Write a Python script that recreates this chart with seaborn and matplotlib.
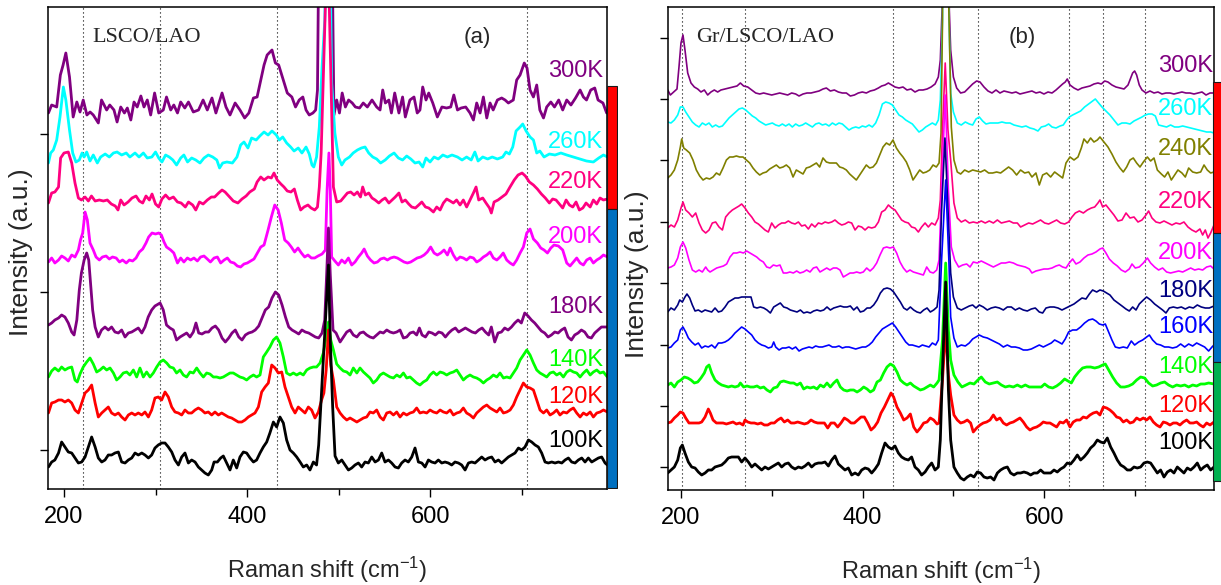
import numpy as np
import pandas as pd
import matplotlib
matplotlib.use("Agg")
import matplotlib.pyplot as plt
import seaborn as sns

# ---------------------------------------------------------------------------
# Raman spectra, stacked with vertical offsets (shift in cm^-1, intensity a.u.)
# Panel (a): LSCO/LAO
# ---------------------------------------------------------------------------
lsco_300K = [(183,377),(186.5,385),(192,383),(196,415),(199,425),(202,437),(206,413),(210,373),(214,388),(217.5,378),(221,390),(225,375),(228.5,378),(232,375),(237.5,367),(241,390),(246.6,380),(250,385),(254.6,380),(258,368),(262,383),(266,377),(269.2,382),(273,370),(276.5,388),(280,383),(284,394),(287.4,383),(291,390),(294.7,375),(299,397),(303.5,377),(308.5,380),(312,393),(316.6,380),(320,385),(324,377),(327.5,388),(332,382),(336,388),(341.3,378),(347,380),(352,390),(356.6,380),(361.7,392),(366,377),(372.7,397),(377,383),(381.4,375),(387,387),(392.3,380),(397.4,372),(402,377),(407,392),(411,393),(415,410),(418.6,425),(422,435),(427.3,440),(431,427),(434.6,425),(439,412),(444,397),(449,393),(453,383),(457,390),(461,393),(464.5,380),(468,375),(472,377),(475,380),(477,400),(485,1200),(495,375),(498,390),(501,377),(504,397),(507.5,383),(511,390),(515,387),(518.4,383),(523,382),(527,387),(531.5,383),(536.6,390),(541.7,383),(545.4,380),(548.3,400),(551.2,387),(555,390),(557.8,377),(561.4,397),(566,377),(570,393),(573,373),(578,390),(582.5,393),(586,377),(589,380),(592,403),(595.6,390),(598.6,397),(603,387),(608,373),(613,383),(618,382),(622.6,383),(626,395),(630,380),(634,382),(639,383),(643.7,377),(647.4,370),(651,387),(654.7,377),(658.3,393),(662,372),(665.6,387),(669,380),(673.6,390),(678.3,392),(682,390),(685.6,387),(691,390),(694.7,410),(698.4,415),(703,427),(706,422),(709.3,400),(713,393),(716.6,405),(720,380),(724,372),(727.5,383),(732,388),(736,383),(740.6,390),(745,380),(749.4,390),(754,385),(759,392),(764,400),(767.6,393),(771,390),(775.6,400),(780,402),(783.6,390),(789,387),(793,377)]
lsco_260K = [(183,327),(185.4,337),(188.3,340),(192,350),(195.6,373),(199.3,403),(202,390),(206,360),(209.5,337),(213,328),(216.7,330),(219.7,337),(222,333),(224.8,338),(228.4,329),(232,335),(236.4,327),(240,333),(245,336),(249.5,333),(254,337),(258,338),(263,335),(268,337),(272,333),(277.6,337),(282,333),(286.7,337),(291,332),(296,333),(300,338),(303.5,332),(307,328),(311,335),(315,333),(319,330),(323,325),(327.5,332),(331,335),(335,328),(339.5,332),(344,330),(348.6,327),(353,332),(357.7,335),(362.5,333),(367,330),(370,322),(373.4,327),(378,328),(384,327),(389,333),(393,345),(396.7,348),(401,342),(405,352),(410,350),(414,354),(418.6,358),(423,355),(427.3,359),(432,355),(435.3,350),(439,353),(443.3,347),(447.7,343),(451.4,339),(456,342),(460,337),(464.5,343),(468,336),(471,325),(473,323),(476,333),(479,363),(482,423),(485,470),(488.5,700),(492.5,407),(496,357),(499.8,333),(503.5,325),(507,330),(512,333),(516,337),(520.6,340),(525,342),(529,343),(533,337),(537.4,333),(541.7,331),(546,327),(551,330),(555.6,334),(560.7,337),(565.4,332),(570,330),(574.5,334),(579,331),(583.6,327),(588,328),(592,323),(595.6,332),(600,328),(604.4,333),(609,331),(614,335),(619,333),(624,335),(630,333),(635,330),(640,333),(645,330),(649,338),(652.5,329),(657.6,333),(663,331),(668,333),(673.6,331),(679.4,333),(683,338),(686.7,336),(690.4,343),(694,359),(698.4,363),(701.3,366),(705,359),(709.3,353),(713,350),(716.6,337),(720,339),(724.6,333),(730.4,336),(736.6,335),(743,337),(749.4,335),(756.7,333),(764,331),(771,329),(778.5,328),(784.4,332),(789.5,335),(794,333)]
lsco_220K = [(183,287),(186.5,297),(190,298),(194,303),(196.3,332),(200,337),(204.7,338),(208.4,327),(212,307),(215.7,292),(219,290),(223,293),(226.6,289),(230,294),(234,289),(238.6,290),(243,289),(247.3,290),(251.7,286),(256,284),(259,280),(262,290),(265.6,285),(270,288),(274.3,292),(278.7,294),(282.3,289),(286,287),(289.6,294),(293.3,290),(296.2,296),(300,286),(303.5,283),(307,291),(311,295),(315,291),(319.5,293),(324,288),(328,287),(332.6,283),(336,288),(340.6,285),(344,280),(348,288),(352,286),(356.6,290),(361,293),(364.6,293),(369,297),(372.7,300),(376,298),(381,293),(385,289),(390,287),(394.5,291),(399,294),(403,298),(408,301),(411,308),(415,313),(418.6,310),(423,313),(426.6,312),(429.5,317),(433,310),(437,306),(440.4,303),(444,299),(448,298),(451.7,301),(455,290),(458.6,280),(462.3,283),(466.6,285),(470,282),(474,280),(477,283),(479,303),(481,337),(483,400),(488,560),(492,400),(494.4,303),(498,288),(502.4,289),(506,293),(509.7,297),(513.3,298),(517,295),(520.6,298),(524,293),(526.4,303),(529.3,295),(533,297),(536.6,292),(540,290),(544,287),(547.6,290),(551,292),(555,287),(558.5,290),(562,293),(566,297),(569.4,288),(573,290),(576.7,286),(580,283),(584,282),(587.6,285),(591,288),(595,283),(598.6,282),(603.7,278),(607.3,283),(611,280),(614.6,287),(618.2,291),(622,289),(625.5,287),(629,290),(632.8,285),(636.4,290),(640,283),(643.7,290),(647.4,297),(650.3,303),(653.2,290),(657.6,292),(661.2,287),(665,282),(667,277),(670,288),(674.3,290),(678.7,293),(683,296),(687.4,303),(692,310),(696.2,315),(700.6,317),(704.2,314),(708.6,308),(713,305),(717.3,301),(721.7,296),(726,292),(730.4,287),(734,291),(737.7,290),(741.4,286),(745,282),(748.7,290),(752.3,285),(756,283),(759.6,288),(763.2,280),(767,282),(770.5,287),(775,283),(778.5,290),(782.2,286),(785.8,292),(789.5,290),(794,291)]
lsco_200K = [(183,228),(186.5,232),(190,227),(194,230),(197.4,234),(201,232),(204.7,229),(208.4,235),(212,233),(215.7,240),(218,250),(220.4,257),(223,278),(225.5,270),(228.4,247),(232,240),(235,233),(238.6,230),(242,233),(246,234),(249.5,231),(253,233),(257,232),(260.6,228),(264,230),(268,227),(271.4,230),(275,229),(278.7,232),(282.3,238),(286,241),(289.6,247),(292.5,253),(296.2,257),(300,256),(303.5,257),(306.4,255),(309.3,248),(312,243),(316.6,240),(320,237),(324,227),(327.5,232),(331,228),(334.8,232),(338.4,230),(342,232),(345.7,229),(349.3,233),(353,234),(356.6,231),(360,228),(364,232),(367.6,233),(371.2,227),(375,230),(378.5,232),(382,228),(385.8,227),(389.4,224),(393,223),(396.7,226),(400.3,227),(404,229),(407.6,231),(411.3,237),(415,243),(418.6,245),(423,260),(426.6,273),(430.3,285),(434,280),(437.5,267),(441.2,250),(445,247),(448.4,243),(452,238),(455.7,242),(459.4,237),(463,233),(466.6,235),(470.3,232),(474,232),(477.6,234),(482,236),(485.6,240),(487.5,300),(489.5,337),(491,300),(492.5,233),(496,229),(499.8,225),(503.5,230),(507,227),(510.8,232),(514.4,225),(518,228),(521.7,233),(525.3,237),(528,241),(531.5,234),(535,230),(538.8,227),(542.5,228),(546,231),(549.7,232),(553.4,230),(557,232),(560.7,233),(564.3,232),(568,230),(571.6,228),(575.3,227),(578.9,228),(582.5,230),(586,232),(589.8,233),(593.5,235),(597,238),(600.7,243),(604.4,237),(608,235),(611.7,237),(615.3,240),(619,235),(622,242),(625.5,235),(629,230),(632.8,233),(636.4,232),(640,230),(643.7,233),(647.4,232),(651,228),(654.7,230),(658.3,233),(662,235),(665.6,238),(669.2,232),(673,230),(676.5,233),(680,237),(683.8,230),(687.5,227),(691,225),(694.7,230),(698.4,237),(702,243),(705.7,257),(709.3,261),(713,251),(717.3,247),(721,242),(724.6,240),(728.3,237),(732,242),(735.5,245),(740.3,244),(745,240),(749.4,227),(753,224),(756.7,228),(760.3,232),(764,227),(767.6,225),(771.2,230),(775,232),(778.5,227),(782.2,230),(785.8,232),(789.5,235),(794,233)]
lsco_180K = [(183,165),(186.5,167),(190,170),(194,172),(197.4,175),(201,173),(204.7,167),(208.4,158),(211,155),(214,170),(216.7,200),(219,217),(222,230),(224.8,237),(227,230),(229,207),(231.3,180),(234,163),(237.5,153),(241,160),(244.8,163),(248.4,160),(252,163),(255.7,158),(259.4,157),(263,160),(266.7,153),(270.3,157),(274,158),(277.6,160),(281.2,162),(285,157),(288.5,163),(292,173),(295.8,180),(299.4,184),(305,187),(308.5,180),(312,165),(315.8,162),(319.5,160),(323,150),(326.8,153),(330.4,155),(334,157),(337.7,153),(341.3,158),(344.2,167),(347.2,157),(350.8,156),(354.5,158),(358,158),(361.7,162),(365.4,164),(369,160),(372.7,152),(376.3,148),(380,152),(383.6,157),(387.2,160),(391,153),(394.5,150),(398.2,155),(401.8,157),(405.5,158),(409,160),(412.8,164),(416.4,172),(420,180),(423.7,183),(427.3,192),(431,198),(434.6,195),(438.3,185),(442,173),(445.6,163),(449.2,160),(453,158),(456.5,156),(460,160),(463.7,158),(467.4,157),(471,155),(474.7,153),(478.3,152),(482,157),(484.9,170),(487,215),(489,262),(491,215),(494,160),(497.3,157),(501.7,148),(505.3,153),(509,158),(512.6,160),(516.2,155),(520,153),(523.5,157),(527.2,158),(530.8,155),(534.4,153),(538,152),(541.7,155),(545.4,158),(549,157),(552.7,160),(556.3,158),(560,157),(563.6,158),(567.2,160),(570.9,152),(574.5,153),(578.2,157),(581.8,158),(585.4,155),(588.4,162),(591.3,155),(595,153),(598.6,158),(602.2,157),(605.8,155),(609.5,158),(613.1,157),(616.8,153),(620.4,157),(624,160),(627.7,162),(631.3,158),(635,160),(638.6,162),(642.3,160),(646,158),(649.6,157),(653.2,160),(656.9,162),(660.5,158),(664.1,155),(667,163),(670.7,148),(674.3,157),(678,158),(681.6,162),(685.3,160),(689,163),(692.6,167),(696.2,170),(699.8,167),(703.5,177),(707.1,174),(710.8,170),(714.4,167),(718,163),(721.7,159),(725.3,157),(729,153),(732.6,155),(736.3,158),(740,157),(743.6,160),(747.2,162),(750.8,153),(754.5,150),(758.1,155),(761.8,157),(765.4,160),(769,158),(772.7,153),(776.3,152),(780,157),(783.6,160),(787.3,163),(793.8,163)]
lsco_140K = [(183,113),(186.5,119),(190,122),(194,119),(197.4,123),(201,120),(204.7,122),(208.4,123),(212,110),(214.5,108),(217.5,116),(221,123),(224.8,128),(228.4,132),(232,126),(235.7,118),(239.3,120),(243,123),(246.6,120),(250.3,122),(254,117),(257.5,110),(261.2,113),(264.8,117),(268.5,118),(272,115),(275.8,120),(279.4,113),(283,122),(286.7,113),(290.3,118),(294,113),(297.6,117),(301.3,123),(305,128),(308.5,130),(312.2,127),(315.8,123),(319.5,122),(323,117),(326.8,120),(330.4,115),(334,113),(337.7,118),(341.3,117),(345,122),(348.6,117),(352.3,113),(355.9,117),(359.5,116),(363.2,113),(366.8,113),(370.5,112),(374.1,113),(377.8,115),(381.4,117),(385,117),(388.7,115),(392.3,113),(396,112),(399.6,110),(403.3,113),(407,115),(410.5,113),(414.2,115),(417.8,133),(421.5,138),(425,143),(428.8,150),(432.4,153),(436,147),(439.7,133),(443.3,117),(447,115),(450.6,117),(454.3,115),(458,117),(461.5,115),(465.2,120),(468.8,122),(472.5,123),(476,123),(479.8,127),(483.4,137),(486,150),(489,168),(491.5,150),(494.4,140),(498,126),(501.7,122),(505.3,119),(509,118),(512.6,115),(516.2,122),(520,117),(523.5,122),(527.2,118),(530.8,115),(534.4,112),(538,107),(541.7,110),(545.4,115),(549,117),(552.7,115),(556.3,113),(560,112),(563.6,115),(567.2,113),(570.9,117),(574.5,112),(578.2,113),(581.8,110),(585.4,107),(589,105),(592.7,108),(596.4,110),(600,115),(603.7,118),(607.3,115),(611,118),(614.6,117),(618.2,115),(622,117),(625.5,118),(629.2,120),(632.8,115),(636.4,110),(640,113),(643.7,115),(647.4,113),(651,112),(654.7,110),(658.3,107),(662,110),(665.6,112),(669.2,115),(673,113),(676.5,117),(680.2,112),(683.8,113),(687.5,112),(691.1,117),(694.7,122),(698.4,130),(702,135),(705.7,140),(709.3,135),(713,127),(716.6,120),(720.2,117),(724,115),(727.5,113),(731.2,117),(734.8,118),(738.4,115),(742,117),(745.7,113),(749.4,118),(753,120),(756.7,118),(760.3,117),(764,113),(767.6,117),(771.2,120),(775,115),(778.5,118),(782.2,120),(785.8,117),(789.5,118),(793.8,113)]
lsco_120K = [(183,77),(186.5,87),(190,88),(194,90),(197.4,90),(201,88),(204.7,90),(208.4,87),(212,80),(215.7,77),(219.3,87),(223,97),(226.6,100),(230.2,105),(234,87),(237.5,73),(241.2,77),(244.8,80),(248.4,83),(252,77),(255.7,75),(259.4,77),(263,73),(266.7,70),(270.3,75),(274,77),(277.6,75),(281.2,77),(285,75),(288.5,78),(292.2,73),(295.8,80),(299.4,92),(303,93),(306.7,90),(310.4,98),(314,93),(317.7,83),(321.3,78),(325,77),(328.6,75),(332.2,80),(335.9,77),(339.5,77),(343.2,80),(346.8,82),(350.4,80),(354,77),(357.7,78),(361.4,75),(365,78),(368.7,75),(372.3,77),(376,75),(379.6,73),(383.2,72),(386.9,70),(390.5,68),(394.2,68),(397.8,70),(401.4,73),(405,75),(408.7,77),(412.4,83),(416,98),(419.7,103),(423.3,107),(427,125),(430.6,122),(434.2,117),(437.9,118),(441.5,103),(445.2,93),(448.8,83),(452.5,77),(456,83),(459.7,80),(463.4,77),(467,83),(470.6,80),(474.3,72),(478,78),(481.5,90),(484,97),(486.5,120),(489,160),(491.5,125),(494.4,110),(498,83),(501.7,77),(505.3,73),(509,70),(512.6,72),(516.2,70),(520,68),(523.5,70),(527.2,72),(530.8,73),(534.4,78),(538,77),(541.7,80),(545.4,73),(549,70),(552.7,77),(556.3,78),(560,75),(563.6,78),(567.2,73),(570.9,77),(574.5,75),(578.2,77),(581.8,78),(585.4,82),(589,77),(592.7,78),(596.4,77),(600,80),(603.7,78),(607.3,77),(611,80),(614.6,78),(618.2,77),(622,80),(625.5,75),(629.2,77),(632.8,78),(636.4,82),(640,77),(643.7,75),(647.4,72),(651,77),(654.7,80),(658.3,83),(662,85),(665.6,82),(669.2,80),(673,78),(676.5,82),(680.2,77),(683.8,78),(687.5,80),(691.1,85),(694.7,93),(698.4,100),(702,107),(705.7,103),(709.3,102),(713,100),(716.6,90),(720.2,80),(724,77),(727.5,80),(731.2,75),(734.8,77),(738.4,80),(742,75),(745.7,78),(749.4,77),(753,80),(756.7,82),(760.3,77),(764,73),(767.6,77),(771.2,75),(775,78),(778.5,73),(782.2,77),(785.8,78),(789.5,80),(793.8,78)]
lsco_100K = [(183,23),(186.5,28),(190,30),(194,37),(197.4,48),(201,43),(204.7,38),(208.4,37),(212,32),(215.7,27),(219.3,28),(223,33),(226.6,43),(230.2,53),(234,43),(237.5,32),(241.2,28),(244.8,30),(248.4,35),(252,35),(255.7,37),(259.4,38),(263,28),(266.7,27),(270.3,30),(274,32),(277.6,37),(281.2,35),(285,37),(288.5,35),(292.2,32),(295.8,35),(299.4,42),(303,45),(306.7,47),(310.4,47),(314,43),(317.7,38),(321.3,30),(325,25),(328.6,33),(332.2,37),(335.9,27),(339.5,30),(343.2,28),(346.8,23),(350.4,20),(354,17),(357.7,15),(361.4,20),(364,28),(367.6,28),(371.2,32),(374.1,34),(377.8,27),(381.4,20),(385,30),(388.7,22),(392.3,33),(396,38),(399.6,37),(403.3,32),(407,28),(410.5,30),(414.2,37),(417.8,43),(421.5,48),(425,57),(428.8,68),(432.4,63),(436,73),(439.7,67),(443.3,50),(447,40),(450.6,37),(454.3,33),(458,28),(461.5,23),(465.2,25),(468.8,20),(472.5,28),(476,25),(478.3,45),(489,225),(491,150),(493.6,83),(496.2,34),(499.8,27),(503.5,30),(507.1,25),(510.8,20),(514.4,22),(518,25),(521.7,27),(525.3,23),(529,28),(532.6,27),(536.3,33),(540,28),(543.6,30),(547.2,37),(550.8,28),(554.5,30),(558.1,27),(561.8,23),(565.4,22),(569,27),(572.7,30),(576.3,28),(580,33),(583.6,42),(587.3,28),(591,27),(594.6,23),(598.2,30),(601.8,28),(605.5,27),(609.1,30),(612.8,27),(616.4,28),(620,27),(623.7,25),(627.3,28),(631,27),(634.6,25),(638.3,20),(642,27),(645.5,28),(649.2,27),(652.8,30),(656.5,33),(660.1,30),(663.8,32),(667.4,33),(671,28),(674.7,30),(678.3,27),(682,30),(685.6,33),(689.3,35),(692.9,37),(696.6,42),(700.2,40),(703.8,43),(707.5,50),(711.1,48),(714.8,45),(718.4,43),(722,37),(725.7,28),(729.3,27),(733,28),(736.6,27),(740.3,28),(744,27),(747.6,30),(751.2,32),(754.8,28),(758.5,27),(762.1,30),(765.8,32),(769.4,28),(773,32),(776.7,28),(780.4,30),(784,32),(787.6,33),(791.3,27),(793.8,25)]

# ---------------------------------------------------------------------------
# Panel (b): Gr/LSCO/LAO
# ---------------------------------------------------------------------------
gr_300K = [(185.4,400),(188.3,395),(192,398),(195.6,401),(197.8,423),(200,447),(202.2,455),(204.4,440),(207.4,417),(211,407),(214.7,403),(218.4,401),(222,398),(225.7,400),(229.4,395),(233,398),(236.7,400),(240.4,398),(244,400),(248.5,401),(252.9,402),(257.3,403),(261.7,404),(265.4,407),(269,404),(273.5,403),(277.9,400),(282.3,397),(286.7,396),(291,397),(295.5,396),(299.9,395),(304.3,396),(308.7,397),(313.1,396),(317.5,395),(321.9,397),(326.3,396),(330,394),(334.4,396),(338.8,397),(343.2,397),(347.6,398),(352,399),(356.4,401),(360.1,402),(364.5,399),(368.9,400),(373.3,398),(377.7,397),(382.1,397),(386.5,394),(391,395),(395.3,397),(399.7,398),(404.1,397),(408.5,399),(413,400),(417.4,402),(421,404),(424.7,405),(428.4,407),(432,405),(435.7,403),(440.1,402),(444.5,403),(448.9,400),(453.3,401),(457.7,398),(462.1,400),(466.5,400),(471,401),(475.4,403),(479.8,406),(483.4,413),(485.6,430),(487.5,480),(491,1200),(495.5,480),(497,440),(500,413),(503.6,402),(508,397),(512.4,398),(516.8,402),(521.2,406),(525.6,409),(529.3,408),(533.7,403),(538.1,399),(542.5,397),(546.9,400),(551.3,397),(555.7,399),(560.1,398),(564.5,397),(568.9,398),(573.3,396),(577.7,397),(582.1,398),(586.5,399),(591,397),(595.3,398),(599.7,396),(604.2,398),(608.6,397),(613,400),(616.6,403),(620.3,406),(623.2,408),(625.4,411),(628.4,405),(632.8,402),(637.2,400),(641.6,402),(646,403),(650.4,404),(654.8,406),(659.2,407),(662.9,406),(666.6,409),(670.2,408),(674.6,405),(679,403),(683.4,402),(687.9,401),(692.3,405),(695.2,412),(697.4,417),(699.6,419),(701.8,415),(704.7,405),(707.7,400),(712.1,397),(716.5,399),(720.9,397),(725.3,398),(729.7,396),(734.1,397),(738.5,397),(742.9,396),(747.3,397),(751.7,398),(756.1,397),(760.5,397),(765,396),(769.4,397),(773.8,398),(778.2,395),(782.6,397),(787,397)]
gr_260K = [(185.4,368),(189,367),(192.7,370),(196.4,375),(199.3,383),(202.2,383),(205.2,378),(208.8,373),(212.5,368),(216.2,365),(219.9,363),(223.5,367),(227.2,365),(230.9,367),(234.5,363),(238.2,365),(241.9,363),(245.6,364),(249.2,368),(252.9,372),(256.6,375),(260.2,378),(263.9,381),(267.6,382),(271.3,380),(274.9,377),(278.6,374),(282.3,372),(285.9,369),(289.6,367),(293.3,365),(297,366),(300.6,367),(304.3,365),(308,364),(311.6,366),(315.3,364),(319,366),(322.6,363),(326.3,366),(330,364),(333.7,365),(337.3,367),(341,365),(344.7,363),(348.3,366),(352,367),(355.7,365),(359.4,366),(363,364),(366.7,367),(370.4,365),(374,367),(377.7,366),(381.4,363),(385,360),(388.7,362),(392.4,363),(396,362),(399.7,364),(403.4,363),(407.1,365),(410.7,363),(414.4,367),(418.1,375),(421.8,386),(425.4,388),(429.1,387),(432.8,385),(436.4,380),(440.1,375),(443.8,373),(447.5,370),(451.1,368),(454.8,366),(458.5,362),(462.1,358),(465.8,360),(469.5,363),(473.2,365),(476.8,367),(480.5,365),(483.4,370),(485.6,390),(488,470),(491,1000),(495,480),(497,397),(500,378),(504.3,367),(508.7,365),(513.1,368),(517.5,366),(521.2,365),(524.9,371),(528.5,373),(532.2,369),(535.9,366),(540.3,367),(544.7,367),(549.1,367),(553.5,368),(557.9,367),(562.3,367),(566.7,365),(571.1,364),(575.5,363),(579.9,364),(584.3,362),(588.7,361),(593.1,359),(596.8,363),(601.2,364),(604.9,366),(608.6,363),(613,362),(617.4,364),(621,365),(624.7,370),(627.6,373),(631.3,375),(635.7,377),(640.1,379),(644.5,383),(648.9,386),(653.3,389),(656.3,391),(660,387),(663.6,383),(668,379),(672.4,375),(676.8,370),(681.2,365),(685.6,367),(690.1,367),(694.5,366),(698.9,369),(703.3,371),(707.7,373),(711.3,375),(715,376),(718.7,376),(722.4,374),(726,365),(730.4,364),(734.8,363),(739.2,365),(743.6,363),(748,363),(752.5,364),(756.9,363),(761.3,362),(765.7,361),(770.1,360),(774.5,359),(778.9,358),(783.3,358),(787,357)]
gr_240K = [(185.4,312),(189,315),(192.7,320),(196.4,330),(199.3,343),(200.8,351),(203,342),(205.9,340),(209.6,337),(213.2,330),(216.9,320),(220.6,314),(224.3,310),(227.9,312),(231.6,311),(235.3,313),(239,317),(242.6,315),(246.3,322),(250,330),(253.6,333),(257.3,333),(261,334),(264.6,333),(268.3,333),(272,330),(275.7,327),(279.3,322),(283,318),(286.7,315),(290.3,317),(294,318),(297.7,321),(301.4,323),(305,325),(308.7,322),(312.4,323),(316,325),(319.7,322),(323.4,313),(327,320),(330.7,318),(334.4,316),(338,322),(341.7,323),(345.4,325),(349.1,327),(352.7,323),(356.4,332),(360.1,328),(363.8,327),(367.4,327),(371.1,327),(374.8,323),(378.4,322),(382.1,320),(385.8,316),(389.5,313),(393.1,310),(396.8,315),(400.5,320),(404.1,325),(407.8,322),(411.5,323),(415.2,327),(418.8,335),(422.5,343),(426.2,347),(429.8,345),(433.5,350),(437.2,342),(440.9,337),(444.5,333),(448.2,328),(451.9,320),(455.5,310),(459.2,315),(462.9,320),(466.6,317),(470.2,318),(473.9,320),(477.6,325),(481.2,323),(484.2,327),(486.4,357),(488,470),(491,1000),(495,480),(497.7,363),(500.6,330),(504.3,318),(508,316),(512.4,320),(516.8,318),(521.2,320),(525.6,319),(530,318),(534.4,320),(538.8,317),(543.2,317),(547.6,318),(552,317),(556.4,320),(560.8,323),(565.2,320),(569.6,315),(574,320),(578.5,317),(582.9,318),(586.5,313),(590.9,317),(594.6,305),(598.3,315),(602.7,317),(607.1,313),(611.5,318),(615.9,315),(620.3,312),(624,327),(628.4,333),(632.8,330),(637.2,333),(640.9,342),(643.8,351),(647.5,347),(651.1,352),(654.8,348),(658.5,350),(661.4,353),(665.8,348),(670.2,343),(674.6,336),(679,328),(683.4,322),(687.1,318),(690.8,323),(694.5,330),(698.1,332),(701.8,327),(705.5,323),(709.2,328),(713.6,333),(717.2,329),(720.9,332),(724.6,320),(729,316),(732.6,313),(736.3,318),(740,310),(743.6,315),(747.3,320),(751.7,317),(755.4,313),(759.1,322),(763.5,318),(767.9,317),(772.3,318),(776,325),(779.6,320),(783.3,317),(787,318)]
gr_220K = [(185.4,262),(189,265),(192.7,263),(196.4,270),(200,282),(202.2,288),(205.2,280),(208.8,277),(212.5,273),(216.2,277),(219.9,267),(223.5,260),(227.2,257),(230.9,260),(234.5,267),(238.2,268),(241.9,263),(245.6,260),(249.2,273),(252.9,277),(256.6,280),(260.2,282),(263.9,284),(266.8,286),(270.5,282),(274.2,277),(277.9,273),(281.5,268),(285.2,266),(288.9,263),(292.5,260),(296.2,258),(299.9,267),(303.6,262),(307.2,265),(310.9,267),(314.6,267),(318.2,269),(321.9,267),(325.6,266),(329.3,268),(332.9,264),(336.6,265),(340.3,261),(343.9,266),(347.6,263),(351.3,267),(355,266),(358.6,268),(362.3,267),(366,268),(369.6,270),(373.3,267),(377,265),(380.6,266),(384.3,268),(388,267),(391.7,260),(395.3,264),(399,263),(402.7,260),(406.3,263),(410,262),(413.7,263),(417.4,268),(421,278),(424.7,280),(428.4,285),(432,282),(435.7,280),(439.4,275),(443,270),(446.7,268),(450.4,267),(454,263),(457.7,262),(461.4,258),(465,263),(468.8,267),(472.4,263),(476.1,267),(479.8,265),(483.4,272),(485.6,290),(488,360),(491,427),(494,360),(497,330),(500.6,287),(504.3,272),(508.7,268),(513.1,270),(517.5,267),(521.9,268),(526.3,267),(530.7,269),(535.1,267),(539.5,269),(544,267),(548.4,270),(552.8,267),(557.2,268),(561.6,269),(566,267),(570.4,267),(574,263),(578.5,265),(582.9,267),(587.3,266),(591.7,268),(596,270),(600.5,267),(604.9,266),(609.3,268),(613.7,270),(618.1,267),(622.5,266),(626.9,268),(630.6,273),(634.3,277),(638.7,279),(643.1,277),(647.5,280),(651.9,282),(655.6,283),(659.2,287),(661.4,290),(664.4,283),(668,285),(672.4,280),(676.8,275),(681.2,269),(685.7,270),(690.1,277),(694.5,272),(698.9,273),(703.3,268),(707.7,270),(712.1,275),(715,279),(718.7,272),(723.1,268),(727.5,267),(731.9,269),(736.3,267),(740.7,265),(745.1,267),(749.5,266),(753.9,268),(758.3,263),(762.7,260),(767.1,258),(771.5,261),(774.5,255),(777.4,260),(780.4,252),(783.3,257),(787,265)]
gr_200K = [(185.4,222),(189,223),(192.7,225),(196.4,232),(199.3,243),(202.2,248),(205.2,242),(208.8,230),(212.5,220),(216.2,218),(219.9,220),(223.5,218),(227.2,223),(229.4,220),(232,218),(235.6,220),(239.3,222),(243,223),(246.7,224),(250.3,226),(254,233),(257.7,237),(261.3,237),(265,238),(268.7,237),(272.3,239),(276,237),(279.7,235),(283.4,233),(287,230),(290.7,228),(294.4,223),(298,222),(301.7,225),(305.4,224),(309,225),(312.7,217),(316.4,217),(320,218),(323.7,217),(327.4,219),(331,217),(334.8,218),(338.4,220),(342.1,218),(345.8,222),(349.4,223),(353.1,218),(356.8,220),(360.5,222),(364.1,220),(367.8,222),(371.5,222),(375.1,220),(378.8,213),(382.5,215),(386.2,217),(389.8,217),(393.5,218),(397.2,217),(400.8,218),(404.5,222),(408.2,219),(411.8,222),(415.5,227),(419.2,235),(422.9,242),(426.5,243),(430.2,242),(433.9,243),(437.5,237),(441.2,228),(444.9,222),(448.6,218),(452.2,220),(455.9,218),(459.6,217),(463.2,216),(466.9,215),(470.6,223),(474.3,218),(477.9,217),(481.6,220),(484.2,230),(487,300),(491,395),(494.5,300),(497.7,243),(501.4,230),(505.8,223),(510.2,225),(514.6,226),(518.3,223),(521.9,228),(526.3,227),(530.7,229),(535.1,227),(539.5,225),(544,223),(548.4,225),(552.8,227),(557.2,227),(561.6,228),(566,227),(570.4,225),(574.8,224),(579.2,223),(583.6,221),(586.5,217),(590.9,219),(595.3,220),(599.7,221),(604.2,221),(608.6,222),(613,224),(616.6,225),(620.3,223),(624,222),(627.6,227),(631.3,231),(635,226),(639.4,228),(643.8,232),(648.2,235),(652.6,236),(657,238),(661.4,241),(664.4,242),(668,237),(671.7,231),(676.1,227),(680.5,224),(684.9,220),(689.3,218),(693.7,221),(696.7,226),(700.3,222),(704.7,223),(709.2,227),(713.6,232),(717.2,227),(721.6,223),(726,220),(730.4,222),(734.8,218),(739.2,217),(743.6,218),(748.1,219),(752.5,218),(756.9,220),(761.3,222),(765.7,220),(770.1,221),(774.5,220),(778.9,223),(783.3,224),(787,221)]
gr_180K = [(185.4,178),(189,182),(192.7,180),(196.4,185),(198.6,190),(201.5,188),(204.4,193),(206.6,196),(209.6,192),(212.5,185),(215.5,179),(219.1,180),(222.8,178),(226.5,180),(230.1,179),(233.8,178),(237.5,182),(241.2,178),(244.8,179),(248.5,183),(252.2,188),(255.8,190),(259.5,192),(263.2,192),(266.8,193),(270.5,193),(274.2,193),(277.1,193),(280.1,183),(283.7,182),(287.4,183),(291.1,182),(294.7,180),(298.4,177),(302.1,183),(305.8,185),(309.4,187),(313.1,183),(316.8,182),(320.4,180),(324.1,179),(327.8,178),(331.5,180),(335.1,177),(338.8,178),(342.5,177),(346.1,179),(349.8,180),(353.5,179),(357.2,180),(360.8,183),(364.5,180),(368.2,182),(371.8,183),(375.5,184),(379.2,183),(382.9,183),(386.5,184),(390.2,180),(393.9,183),(397.5,178),(401.2,179),(404.9,182),(408.5,182),(412.2,185),(415.9,190),(419.6,197),(423.2,201),(426.9,202),(430.6,201),(434.2,198),(437.9,193),(441.6,188),(445.3,182),(448.9,180),(452.6,183),(456.3,180),(459.9,178),(463.6,177),(467.3,180),(471,182),(474.6,178),(478.3,180),(482,183),(484.2,200),(487,280),(490.7,352),(494,280),(497,217),(500,193),(504.3,182),(508.7,180),(513.1,182),(517.5,184),(521.2,185),(524.9,182),(528.5,185),(532.9,183),(537.3,180),(541.7,182),(546.2,183),(550.6,182),(555,180),(559.4,183),(563.8,183),(568.2,180),(572.6,182),(577,180),(581.4,179),(585.8,181),(590.2,182),(594.6,178),(598.3,177),(602,182),(606.4,183),(610.8,183),(615.2,182),(619.6,180),(624,182),(628.4,184),(632.8,186),(637.2,189),(641.6,192),(646,191),(649.7,196),(653.3,200),(657.8,198),(661.4,200),(665.1,199),(668.8,197),(672.4,195),(676.8,190),(681.3,187),(685.7,184),(690,181),(693.7,179),(697.4,183),(701.1,180),(704.7,186),(709.2,190),(712.8,193),(717.2,190),(721.6,186),(726,183),(730.4,180),(734.1,177),(737.8,182),(742.2,183),(746.6,182),(751,183),(755.4,181),(759.8,183),(764.2,182),(768.6,185),(773,183),(777.4,182),(781.8,182),(787,184)]
gr_160K = [(185.4,142),(189,143),(192.7,147),(196.4,150),(199.3,160),(202.2,163),(205.2,158),(208.1,152),(211.8,148),(215.5,145),(219.1,147),(222.8,142),(226.5,144),(230.1,143),(233.8,145),(237.5,142),(241.2,147),(244.8,147),(248.5,148),(252.2,150),(255.8,153),(259.5,157),(263.2,160),(266.8,163),(270.5,161),(274.2,158),(277.9,155),(281.5,150),(285.2,147),(288.9,145),(292.5,144),(296.2,142),(299.9,143),(302.1,148),(304.3,143),(308,140),(311.6,142),(315.3,142),(319,143),(322.6,141),(326.3,143),(330,139),(333.7,141),(337.3,142),(341,143),(344.7,142),(348.3,144),(352,143),(355.7,143),(359.4,144),(363,145),(366.7,143),(370.4,143),(374,144),(377.7,142),(381.4,143),(385,143),(388.7,142),(392.4,141),(396,142),(399.7,143),(403.4,143),(407.1,145),(410.7,148),(414.4,153),(418.1,157),(421.8,161),(425.4,163),(429.1,165),(432.8,167),(436.4,163),(440.1,158),(443.8,153),(447.5,148),(451.1,145),(454.8,145),(458.5,144),(462.1,143),(465.8,145),(469.5,144),(473.2,143),(476.8,147),(480.5,145),(483.4,150),(487,230),(491.5,310),(495,230),(497,173),(500.6,152),(504.3,143),(508.7,145),(513.1,144),(517.5,147),(521.2,151),(524.9,153),(528.5,155),(532.9,153),(537.3,152),(541.7,150),(546.2,148),(550.6,146),(555,143),(559.4,145),(563.8,143),(568.2,143),(572.6,142),(577,140),(581.4,140),(585.8,141),(590.2,143),(594.6,145),(599,143),(603.4,145),(607.8,147),(611.5,150),(615.9,148),(619.6,146),(623.2,151),(626.9,158),(631.3,160),(635.7,160),(640.1,163),(644.5,167),(649,170),(653.3,171),(657,169),(660.7,166),(664.4,165),(667.3,166),(671,158),(674.6,150),(678.3,143),(682.7,142),(687.1,143),(691.5,142),(695.9,149),(699.6,145),(704,148),(708.4,150),(712.8,153),(715.8,155),(719.4,150),(723.8,146),(728.2,145),(732.6,143),(737,143),(741.4,142),(745.9,143),(750.3,146),(754.7,143),(759.1,146),(763.5,144),(767.9,147),(772.3,145),(776.7,143),(781.1,139),(784.8,143),(787,145)]
gr_140K = [(185.4,105),(189,107),(192.7,103),(196.4,108),(200,110),(203.7,113),(207.4,112),(211,110),(214.7,107),(218.4,108),(222,112),(225.7,117),(228.3,123),(230.9,125),(233.8,117),(237.5,110),(241.2,107),(244.8,105),(248.5,104),(252.2,103),(255.8,104),(259.5,103),(263.2,104),(265.4,107),(269,103),(272.7,104),(276.4,103),(280,103),(283.7,104),(287.4,102),(291.1,103),(294.7,100),(298.4,98),(302.1,102),(305.8,103),(309.4,108),(313.1,109),(316.8,108),(320.4,107),(324.1,107),(327.8,105),(331.5,107),(335.1,101),(338.8,103),(342.5,102),(346.1,103),(349.8,101),(353.5,105),(357.2,103),(360.8,107),(364.5,103),(368.2,107),(371.8,110),(375.5,103),(379.2,100),(382.9,99),(386.5,100),(390.2,100),(393.9,98),(397.5,100),(401.2,103),(404.9,101),(408.5,98),(412.2,100),(415.9,108),(419.6,110),(423.2,117),(426.9,123),(430.6,126),(434.2,124),(437.9,118),(441.6,110),(445.3,107),(448.9,105),(452.6,107),(456.3,104),(459.9,102),(463.6,100),(467.3,101),(471,103),(474.6,105),(478.3,103),(482,107),(484.2,110),(488,150),(491.5,227),(494.5,160),(497,130),(500.6,115),(505,108),(509.4,103),(513.8,105),(518.3,107),(522.7,106),(527,110),(530.7,113),(535.1,108),(539.5,106),(544,107),(548.4,108),(552.8,105),(557.2,103),(561.6,104),(566,103),(570.4,105),(574.8,103),(579.2,105),(583.6,103),(588,103),(592.4,103),(596.8,103),(600.5,106),(604.9,103),(609.3,102),(613.7,104),(618.1,107),(622.5,111),(626.2,109),(629.9,107),(633.5,113),(637.9,118),(642.3,122),(646.7,123),(651.1,123),(655.6,122),(660,123),(664.4,125),(667.3,126),(671,120),(675.4,113),(679.8,107),(684.2,103),(688.6,103),(693,104),(697.4,106),(701.8,110),(706.2,113),(710.6,112),(715,107),(719.4,104),(723.8,105),(728.2,107),(732.6,108),(737,105),(741.5,103),(745.9,105),(750.3,104),(754.7,105),(759.1,103),(763.5,105),(767.9,104),(772.3,106),(776.7,106),(781.1,107),(787,106)]
gr_120K = [(185.4,67),(189,68),(192.7,72),(196.4,75),(199.3,78),(202.2,77),(205.2,72),(208.8,67),(212.5,67),(216.2,67),(219.9,67),(222.8,68),(226.5,73),(230.1,81),(232.3,77),(235.3,70),(239,67),(242.6,67),(246.3,67),(250,66),(253.6,67),(257.3,68),(261,66),(264.6,67),(268.3,65),(270.5,70),(273.5,68),(277.1,67),(280.8,67),(284.5,66),(288.1,67),(291.8,65),(295.5,65),(299.2,67),(302.8,67),(306.5,70),(310.2,72),(313.8,68),(317.5,70),(321.2,67),(324.8,67),(328.5,68),(332.2,67),(335.9,66),(339.5,67),(343.2,70),(346.9,68),(350.5,67),(354.2,67),(357.9,67),(361.6,62),(365.2,67),(368.9,67),(372.6,63),(376.2,67),(379.9,72),(383.6,70),(387.3,67),(390.9,67),(394.6,70),(398.3,73),(401.9,73),(405.6,67),(409.3,60),(412.9,63),(416.6,68),(420.3,77),(424,83),(427.6,90),(431.3,97),(434.2,93),(437.9,83),(441.6,77),(445.3,70),(448.9,72),(452.6,76),(456.3,63),(459.9,58),(463.6,62),(467.3,67),(471,68),(474.6,72),(478.3,70),(482,66),(484.2,67),(488,110),(491.5,162),(494.5,115),(497,95),(500.6,75),(504.3,70),(508,67),(511.6,68),(515.3,70),(519,67),(521.9,58),(525.6,62),(529.3,65),(532.9,67),(536.6,68),(540.3,70),(544,75),(547.6,70),(551.3,72),(555,67),(558.6,65),(562.3,67),(566,68),(569.6,70),(573.3,72),(577,68),(580.7,63),(584.3,60),(588,62),(591.7,63),(595.3,65),(599,68),(602.7,67),(606.4,67),(610,65),(613.7,63),(617.4,68),(621,67),(624.7,70),(628.4,63),(632,68),(635.7,70),(639.4,70),(643,73),(646.7,72),(650.4,75),(654.1,77),(657.8,78),(661.4,75),(665.1,83),(668.8,82),(672.4,80),(676.1,77),(679.8,73),(683.4,72),(687.1,68),(690.8,70),(694.5,67),(698.1,68),(701.8,72),(705.5,70),(709.1,72),(712.8,70),(716.5,73),(720.2,68),(723.8,65),(727.5,63),(731.2,68),(734.8,67),(738.5,65),(742.2,67),(745.9,67),(749.5,65),(753.2,68),(756.9,70),(760.5,67),(764.2,67),(767.9,68),(771.6,65),(775.2,63),(778.9,67),(782.6,65),(787,68)]
gr_100K = [(185.4,17),(189,20),(192.7,23),(196.4,30),(199.3,42),(201.5,45),(204.4,37),(208.1,28),(211.8,23),(215.5,22),(219.1,18),(222.8,15),(226.5,17),(230.1,20),(233.8,20),(237.5,23),(241.2,24),(244.8,25),(248.5,28),(252.2,32),(255.8,33),(259.5,33),(263.2,33),(266.8,28),(270.5,32),(274.2,28),(277.9,23),(281.5,26),(285.2,23),(288.9,20),(292.5,23),(296.2,21),(299.9,23),(303.6,25),(307.2,27),(310.9,23),(314.6,26),(318.2,27),(321.9,23),(325.6,21),(329.3,23),(332.9,22),(336.6,24),(340.3,27),(343.9,23),(347.6,26),(351.3,27),(355,27),(358.6,28),(362.3,24),(366,30),(369.6,34),(373.3,26),(377,23),(380.6,20),(384.3,22),(388,15),(391.7,17),(395.3,15),(399,20),(402.7,22),(406.3,21),(410,17),(413.7,21),(417.4,26),(421,37),(424.7,47),(428.4,43),(432,41),(435.7,44),(439.4,37),(443,33),(446.7,31),(450.4,30),(454,33),(457.7,23),(461.4,20),(465,15),(468.8,18),(472.4,23),(476.1,27),(479.8,20),(483.4,23),(485.6,50),(488,120),(491.5,208),(494.5,100),(497,50),(500.6,23),(504.3,17),(508,12),(511.6,10),(515.3,13),(519,15),(522.7,13),(526.3,18),(530,17),(533.7,13),(537.3,12),(541,13),(544.7,10),(548.4,17),(552,20),(555.7,22),(559.4,23),(563,17),(566.7,15),(570.4,17),(574,17),(577.7,18),(581.4,17),(585.1,15),(588.7,17),(592.4,17),(596.1,20),(599.7,17),(603.4,17),(607.1,17),(610.8,20),(614.4,18),(618.1,21),(621.8,23),(625.4,27),(629.1,26),(632.8,30),(636.5,35),(640.1,30),(643.8,33),(647.5,37),(651.1,42),(654.8,45),(658.5,50),(662.2,48),(665.8,47),(669.5,52),(673.2,43),(676.8,37),(680.5,30),(684.2,25),(687.9,23),(691.5,20),(695.2,20),(698.9,23),(702.5,22),(706.2,23),(709.9,27),(713.6,28),(717.2,27),(720.9,22),(724.6,17),(728.2,20),(731.9,13),(735.6,18),(739.2,20),(742.9,17),(746.6,23),(750.3,20),(753.9,17),(757.6,22),(761.3,20),(765,23),(768.6,27),(772.3,20),(776,23),(779.6,25),(783.3,20),(787,23)]

LSCO_TEMPS = ["300K", "260K", "220K", "200K", "180K", "140K", "120K", "100K"]
GR_TEMPS = ["300K", "260K", "240K", "220K", "200K", "180K", "160K", "140K", "120K", "100K"]
LSCO_SPECTRA = [lsco_300K, lsco_260K, lsco_220K, lsco_200K, lsco_180K, lsco_140K, lsco_120K, lsco_100K]
GR_SPECTRA = [gr_300K, gr_260K, gr_240K, gr_220K, gr_200K, gr_180K, gr_160K, gr_140K, gr_120K, gr_100K]

# phonon mode positions marked with dotted guides (cm^-1)
LSCO_MODES = [221, 305, 433, 706]
GR_MODES = [201, 270, 434, 527, 627, 665, 711]

# temperature-range bands beside each panel: (bottom, top, colour)
LSCO_BANDS = [(281, 404, "#FF0000"), (2, 281, "#0070C0")]
GR_BANDS = [(257, 408, "#FF0000"), (128, 257, "#0070C0"), (9, 128, "#00B050")]

# ---------------------------------------------------------------------------
# styling
# ---------------------------------------------------------------------------
sns.set_style("ticks")
plt.rcParams["font.family"] = ["Liberation Sans", "DejaVu Sans"]
plt.rcParams["mathtext.default"] = "regular"

COLORS = {
    "300K": "#800080", "260K": "#00FFFF", "240K": "#808000", "220K": "#FF0080",
    "200K": "#FF00FF", "180K": "#800080", "160K": "#0000FF", "140K": "#00FF00",
    "120K": "#FF0000", "100K": "#000000",
}
GR_COLORS = dict(COLORS, **{"180K": "#000080"})

LSCO_LABEL_Y = [419, 348, 308, 253, 183, 130, 93, 49]
GR_LABEL_Y = [424, 381, 341, 288, 237, 199, 163, 123, 84, 47]

W, H = 1221, 585
fig = plt.figure(figsize=(W / 100, H / 100), dpi=100)
fig.patch.set_facecolor("white")

axL = fig.add_axes([48 / W, 1 - 489 / H, (607 - 48) / W, (489 - 7) / H])
axR = fig.add_axes([668 / W, 1 - 490 / H, (1214 - 668) / W, (490 - 7) / H])


def frame(knots):
    arr = np.asarray(knots, dtype=float)
    return pd.DataFrame({"shift": arr[:, 0], "intensity": arr[:, 1]})


def draw_panel(ax, temps, spectra, colors, widths, modes, label_x, label_y):
    for m in modes:
        ax.axvline(m, color="black", lw=0.8, ls=(0, (1, 2.6)), zorder=1)
    for t, s, w in zip(temps, spectra, widths):
        sns.lineplot(data=frame(s), x="shift", y="intensity", ax=ax,
                     color=colors[t], linewidth=w, estimator=None, sort=False,
                     zorder=2)
    for t, y in zip(temps, label_y):
        ax.text(label_x, y, t, color=colors[t], fontsize=17,
                ha="right", va="center", zorder=4)
    for sp in ax.spines.values():
        sp.set_linewidth(1.1)
        sp.set_color("black")
    ax.set_xticks([200, 400, 600])
    ax.set_xticks([300, 500, 700], minor=True)
    ax.tick_params(axis="x", which="major", direction="out", length=6,
                   width=1, labelsize=17, pad=6, colors="black")
    ax.tick_params(axis="x", which="minor", direction="out", length=4,
                   width=1, colors="black")
    ax.tick_params(axis="y", which="major", direction="out", length=6,
                   width=1, labelleft=False, colors="black")
    ax.set_xlabel("Raman shift (cm$^{-1}$)", fontsize=17)
    ax.set_ylabel("Intensity (a.u.)", fontsize=19)


draw_panel(axL, LSCO_TEMPS, LSCO_SPECTRA, COLORS, [2.0] * 8, LSCO_MODES,
           789, LSCO_LABEL_Y)
axL.set_xlim(182.5, 793.4)
axL.set_ylim(1, 483)
axL.set_yticks([356, 198, 40])
axL.xaxis.set_label_coords(0.5, -0.137)
axL.yaxis.set_label_coords(-0.026, 0.492)
axL.text(230.6, 453, "LSCO/LAO", fontsize=16, family="Liberation Serif",
         ha="left", va="center")
axL.text(652, 453, "(a)", fontsize=16, ha="center", va="center")

draw_panel(axR, GR_TEMPS, GR_SPECTRA, GR_COLORS, [1.2] * 7 + [2.0] * 3,
           GR_MODES, 786, GR_LABEL_Y)
axR.set_xlim(185.7, 787.0)
axR.set_ylim(0, 483)
axR.set_yticks([452, 391, 330, 268, 207, 145, 84, 23])
axR.xaxis.set_label_coords(0.5, -0.137)
axR.yaxis.set_label_coords(-0.0357, 0.447)
axR.text(216.2, 453, "Gr/LSCO/LAO", fontsize=16, family="Liberation Serif",
         ha="left", va="center")
axR.text(576.3, 453, "(b)", fontsize=16, ha="center", va="center")

# temperature-range bars at the right edge of each panel
barL = fig.add_axes([606 / W, 1 - 489 / H, 12 / W, (489 - 7) / H])
barL.set_ylim(1, 483)
barR = fig.add_axes([1212 / W, 1 - 490 / H, 12 / W, (490 - 7) / H])
barR.set_ylim(0, 483)
for bax, bands in ((barL, LSCO_BANDS), (barR, GR_BANDS)):
    bax.set_xlim(-0.6, 0.6)
    for lo, hi, c in bands:
        bax.bar(0, hi - lo, bottom=lo, width=1.0, color=c,
                edgecolor="#1a1a1a", linewidth=0.8)
    bax.axis("off")

fig.savefig("out.png", dpi=100)
